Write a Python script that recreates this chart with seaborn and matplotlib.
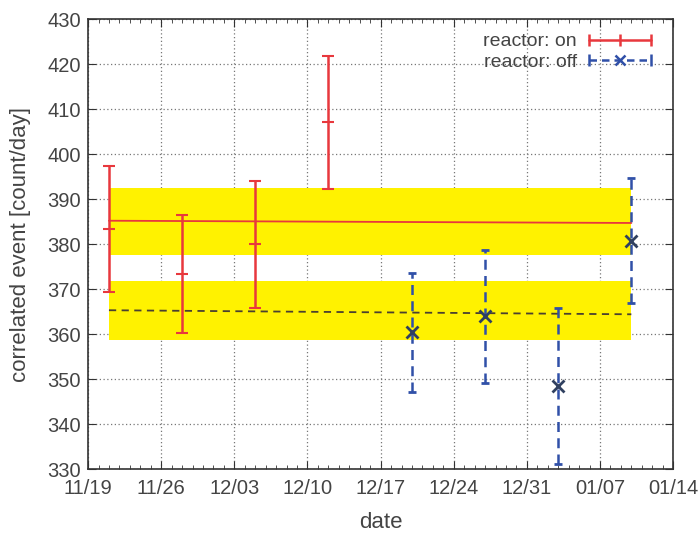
import numpy as np
import pandas as pd
import matplotlib.pyplot as plt
import matplotlib.dates as mdates
from matplotlib.lines import Line2D
from matplotlib.legend_handler import HandlerBase
import seaborn as sns

# reactor on / off measurements
on_dates = ["2010-11-21", "2010-11-28", "2010-12-05", "2010-12-12"]
on_rate = [383.3, 373.3, 380.0, 407.1]
on_err = [14.0, 13.1, 14.1, 14.8]

off_dates = ["2010-12-20", "2010-12-27", "2011-01-03", "2011-01-10"]
off_rate = [360.4, 364.0, 348.4, 380.7]
off_err = [13.2, 14.8, 17.3, 13.9]

# fitted averages and 1-sigma bands
fit_dates = ["2010-11-21", "2011-01-10"]
on_fit = [385.2, 384.7]
on_band = [377.6, 392.4]
off_fit = [365.3, 364.4]
off_band = [358.7, 371.8]

tick_dates = ["2010-11-19", "2010-11-26", "2010-12-03", "2010-12-10", "2010-12-17",
              "2010-12-24", "2010-12-31", "2011-01-07", "2011-01-14"]

sns.set_style("ticks")
plt.rcParams['font.family'] = ['Liberation Sans', 'DejaVu Sans']

RED = "#e8383d"
BLUE = "#3050a8"
TXT = "#444444"


class GnuKey(HandlerBase):
    # gnuplot-like key: line with caps at both ends and a marker in the middle
    def __init__(self, mid_marker, ls):
        super().__init__()
        self.mid_marker = mid_marker
        self.ls = ls

    def create_artists(self, legend, orig_handle, xdescent, ydescent, width, height,
                       fontsize, trans):
        c = orig_handle.get_color()
        y = height / 2 - ydescent
        x0, x1 = -xdescent, width - xdescent
        line = Line2D([x0, x1], [y, y], color=c, lw=1.8, ls=self.ls)
        caps = Line2D([x0, x1], [y, y], color=c, ls="none", marker="|", ms=8, mew=1.8)
        mid = Line2D([(x0 + x1) / 2], [y], color=c, ls="none", marker=self.mid_marker,
                     ms=8 if self.mid_marker == "|" else 7, mew=1.8)
        for a in (line, caps, mid):
            a.set_transform(trans)
        return [line, caps, mid]


fit = pd.DataFrame({"date": pd.to_datetime(fit_dates), "on": on_fit, "off": off_fit})
on_x = pd.to_datetime(on_dates)
off_x = pd.to_datetime(off_dates)

fig = plt.figure(figsize=(6.99, 5.33), dpi=100)
ax = fig.add_axes([0.126, 0.12, 0.837, 0.844])

ax.fill_between(fit["date"], on_band[0], on_band[1], color="#fff200", lw=0, zorder=1)
ax.fill_between(fit["date"], off_band[0], off_band[1], color="#fff200", lw=0, zorder=1)
sns.lineplot(data=fit, x="date", y="on", color=RED, lw=1.3, ax=ax, zorder=2)
sns.lineplot(data=fit, x="date", y="off", color="#4a4030", lw=1.3, ls=(0, (4, 3)), ax=ax, zorder=2)

ax.errorbar(on_x, on_rate, yerr=on_err, fmt="_", color=RED, ms=9, mew=1.5,
            elinewidth=1.8, capsize=4, capthick=1.5, zorder=4)
eb_off = ax.errorbar(off_x, off_rate, yerr=off_err, fmt="x", color=BLUE, mec="#304060",
                     ms=8, mew=2, elinewidth=1.8, capsize=3, capthick=1.5, zorder=4)
eb_off[2][0].set_linestyle((0, (4, 2.5)))

ax.set_xlim(pd.Timestamp(tick_dates[0]), pd.Timestamp(tick_dates[-1]))
ax.set_ylim(330, 430)
ax.set_yticks(np.arange(330, 431, 10))
ax.set_xticks(pd.to_datetime(tick_dates))
ax.xaxis.set_major_formatter(mdates.DateFormatter("%m/%d"))
ax.xaxis.set_minor_locator(mdates.DayLocator())
ax.tick_params(which="both", direction="in", top=True, right=True, labelsize=14.5,
               colors="#333333", labelcolor=TXT)
ax.tick_params(which="major", length=6)
ax.tick_params(which="minor", length=3)
ax.tick_params(axis="y", which="minor", length=0)
ax.tick_params(axis="x", pad=7)
ax.tick_params(axis="y", pad=5)
ax.grid(True, which="major", ls=(0, (1, 2)), color="#777777", lw=0.9)
ax.set_axisbelow(True)
for s in ax.spines.values():
    s.set_color("#333333")
    s.set_linewidth(1.2)

ax.set_xlabel("date", fontsize=16, color=TXT, labelpad=10)
ax.set_ylabel("correlated event [count/day]", fontsize=16, color=TXT, labelpad=12)

h_on = Line2D([], [], color=RED)
h_off = Line2D([], [], color=BLUE)
leg = ax.legend(handles=[h_on, h_off], labels=["reactor: on", "reactor: off"],
                handler_map={h_on: GnuKey("|", "-"), h_off: GnuKey("x", (0, (3, 2)))},
                loc="upper right", frameon=False, markerfirst=False,
                fontsize=14, handlelength=3.2, borderaxespad=0.3, labelspacing=0.15,
                handletextpad=0.6, bbox_to_anchor=(0.985, 1.0))
for t in leg.get_texts():
    t.set_color(TXT)

fig.savefig("out.png", dpi=100)
